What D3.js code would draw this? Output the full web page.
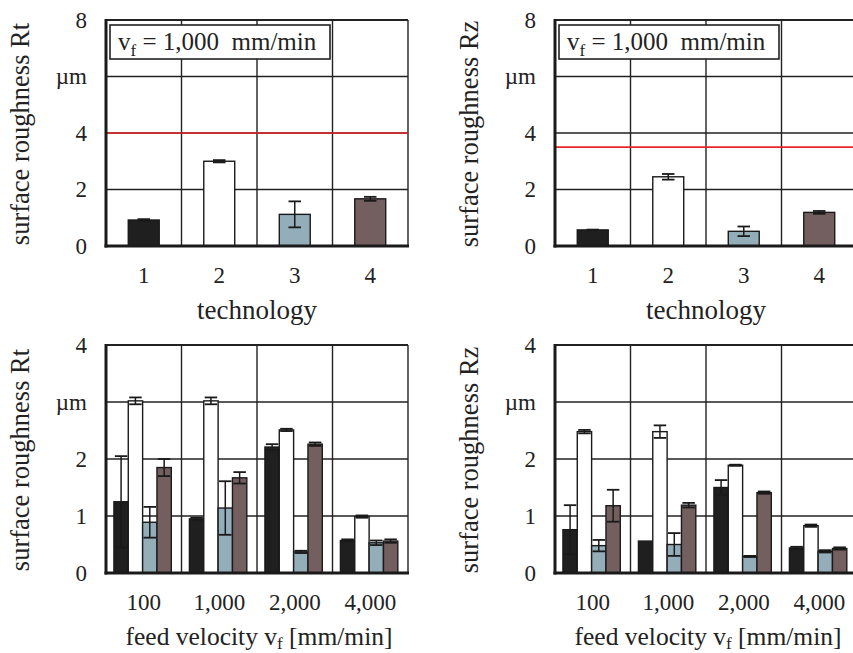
<!DOCTYPE html>
<html>
<head>
<meta charset="utf-8">
<script src="https://cdn.jsdelivr.net/npm/d3@7"></script>
<style>
  body { margin: 0; background: #fff; }
  text { font-family: "Liberation Serif", "Times New Roman", serif; fill: #222; }
</style>
</head>
<body>
<div id="chart"></div>
<script>
// technology comparison at vf = 1,000 mm/min
var techCats = ["1", "2", "3", "4"];
var rtTech = [0.92, 3.0, 1.12, 1.67];
var rtTechErr = [0.03, 0.04, 0.46, 0.07];
var rzTech = [0.57, 2.45, 0.52, 1.19];
var rzTechErr = [0.01, 0.1, 0.17, 0.05];
var rtLimit = 4.0;
var rzLimit = 3.5;

// feed velocity comparison, one array per technology
var feedCats = ["100", "1,000", "2,000", "4,000"];
var rtFeed1 = [1.25, 0.95, 2.21, 0.57];
var rtFeed2 = [3.02, 3.02, 2.51, 0.99];
var rtFeed3 = [0.89, 1.14, 0.37, 0.53];
var rtFeed4 = [1.85, 1.67, 2.26, 0.56];
var rtFeedErr1 = [0.8, 0.02, 0.05, 0.02];
var rtFeedErr2 = [0.06, 0.06, 0.02, 0.02];
var rtFeedErr3 = [0.27, 0.47, 0.02, 0.04];
var rtFeedErr4 = [0.15, 0.1, 0.03, 0.03];
var rzFeed1 = [0.76, 0.56, 1.5, 0.44];
var rzFeed2 = [2.48, 2.48, 1.89, 0.83];
var rzFeed3 = [0.48, 0.5, 0.29, 0.38];
var rzFeed4 = [1.18, 1.19, 1.41, 0.43];
var rzFeedErr1 = [0.43, 0.0, 0.13, 0.02];
var rzFeedErr2 = [0.03, 0.11, 0.01, 0.02];
var rzFeedErr3 = [0.1, 0.2, 0.01, 0.02];
var rzFeedErr4 = [0.28, 0.04, 0.02, 0.02];

var techColors = ["#1f1f1f", "#ffffff", "#93adb9", "#735f60"];

var fullWidth = 853;
var fullHeight = 653;

var svg = d3.select("#chart")
    .append("svg")
    .attr("width", fullWidth)
    .attr("height", fullHeight);

// panel boxes in page pixels
var panels = [
    { x0: 106, x1: 408, y0: 20, y1: 246, yMax: 8, step: 2, unitAt: 6, title: "surface roughness Rt", kind: "tech",
      vals: rtTech, errs: rtTechErr, limit: rtLimit },
    { x0: 555, x1: 857, y0: 20, y1: 246, yMax: 8, step: 2, unitAt: 6, title: "surface roughness Rz", kind: "tech",
      vals: rzTech, errs: rzTechErr, limit: rzLimit },
    { x0: 106, x1: 408, y0: 345, y1: 573, yMax: 4, step: 1, unitAt: 3, title: "surface roughness Rt", kind: "feed",
      series: [rtFeed1, rtFeed2, rtFeed3, rtFeed4], errs: [rtFeedErr1, rtFeedErr2, rtFeedErr3, rtFeedErr4] },
    { x0: 555, x1: 857, y0: 345, y1: 573, yMax: 4, step: 1, unitAt: 3, title: "surface roughness Rz", kind: "feed",
      series: [rzFeed1, rzFeed2, rzFeed3, rzFeed4], errs: [rzFeedErr1, rzFeedErr2, rzFeedErr3, rzFeedErr4] }
];

panels.forEach(function (p) {
    var g = svg.append("g");
    var cats = p.kind === "tech" ? techCats : feedCats;

    var x = d3.scaleBand().domain(cats).range([p.x0, p.x1]).padding(0);
    var y = d3.scaleLinear().domain([0, p.yMax]).range([p.y1, p.y0]);
    var ticks = d3.range(0, p.yMax + 0.001, p.step);

    // grid
    g.selectAll(".hgrid").data(ticks.slice(1)).enter().append("line")
        .attr("x1", p.x0).attr("x2", p.x1)
        .attr("y1", d => y(d)).attr("y2", d => y(d))
        .attr("stroke", "#222").attr("stroke-width", d => d === p.yMax ? 2.2 : 1.4);
    g.selectAll(".vgrid").data(cats.slice(1)).enter().append("line")
        .attr("x1", d => x(d)).attr("x2", d => x(d))
        .attr("y1", p.y0).attr("y2", p.y1)
        .attr("stroke", "#222").attr("stroke-width", 1.4);
    g.append("line")
        .attr("x1", p.x1).attr("x2", p.x1).attr("y1", p.y0).attr("y2", p.y1)
        .attr("stroke", "#222").attr("stroke-width", 1.4);

    // limit line
    if (p.limit) {
        g.append("line")
            .attr("x1", p.x0).attr("x2", p.x1)
            .attr("y1", y(p.limit)).attr("y2", y(p.limit))
            .attr("stroke", "#e8262a").attr("stroke-width", 1.6);
    }

    // bars
    var bars = [];
    if (p.kind === "tech") {
        var bw = x.bandwidth() * 0.41;
        cats.forEach(function (c, i) {
            bars.push({ x: x(c) + (x.bandwidth() - bw) / 2, w: bw, v: p.vals[i], e: p.errs[i], col: techColors[i] });
        });
    } else {
        var sub = d3.scaleBand().domain(d3.range(4)).range([x.bandwidth() * 0.105, x.bandwidth() * 0.865]).padding(0);
        cats.forEach(function (c, i) {
            p.series.forEach(function (s, k) {
                bars.push({ x: x(c) + sub(k), w: sub.bandwidth(), v: s[i], e: p.errs[k][i], col: techColors[k] });
            });
        });
    }

    g.selectAll(".bar").data(bars).enter().append("rect")
        .attr("x", d => d.x).attr("width", d => d.w)
        .attr("y", d => y(d.v)).attr("height", d => y(0) - y(d.v))
        .attr("fill", d => d.col)
        .attr("stroke", "#1a1a1a").attr("stroke-width", 1.4);

    // error bars
    var capW = 12.5;
    var eb = g.selectAll(".err").data(bars.filter(d => d.e > 0)).enter().append("g");
    eb.append("line")
        .attr("x1", d => d.x + d.w / 2).attr("x2", d => d.x + d.w / 2)
        .attr("y1", d => y(d.v + d.e)).attr("y2", d => y(d.v - d.e))
        .attr("stroke", "#1a1a1a").attr("stroke-width", 1.5);
    eb.append("line")
        .attr("x1", d => d.x + d.w / 2 - Math.min(capW, d.w - 1) / 2).attr("x2", d => d.x + d.w / 2 + Math.min(capW, d.w - 1) / 2)
        .attr("y1", d => y(d.v + d.e)).attr("y2", d => y(d.v + d.e))
        .attr("stroke", "#1a1a1a").attr("stroke-width", 1.8);
    eb.append("line")
        .attr("x1", d => d.x + d.w / 2 - Math.min(capW, d.w - 1) / 2).attr("x2", d => d.x + d.w / 2 + Math.min(capW, d.w - 1) / 2)
        .attr("y1", d => y(d.v - d.e)).attr("y2", d => y(d.v - d.e))
        .attr("stroke", "#1a1a1a").attr("stroke-width", 1.8);

    // annotation box
    if (p.kind === "tech") {
        g.append("rect")
            .attr("x", p.x0 + 4).attr("y", p.y0 + 5)
            .attr("width", 220).attr("height", 34)
            .attr("fill", "#fff").attr("stroke", "#222").attr("stroke-width", 1.6);
        var t = g.append("text")
            .attr("x", p.x0 + 12).attr("y", p.y0 + 30)
            .style("font-size", "25px");
        t.append("tspan").text("v");
        t.append("tspan").attr("dy", 6).style("font-size", "17px").text("f");
        t.append("tspan").attr("dy", -6).attr("xml:space", "preserve").text(" = 1,000  mm/min");
    }

    // y axis
    var yAxis = d3.axisLeft(y).tickValues(ticks).tickSize(0).tickPadding(0)
        .tickFormat(d => d === p.unitAt ? "\u00b5m" : d3.format("d")(d));
    var ya = g.append("g").attr("transform", "translate(" + (p.x0 - 19) + ",0)").call(yAxis);
    ya.select(".domain").remove();
    ya.selectAll("text").style("font-size", "23px").attr("fill", "#222")
        .style("font-family", "'Liberation Serif', serif");

    // x axis
    var xAxis = d3.axisBottom(x).tickSize(0).tickPadding(0);
    var xa = g.append("g").attr("transform", "translate(0," + (p.y1 + 37) + ")").call(xAxis);
    xa.select(".domain").remove();
    xa.selectAll("text").attr("dy", 0).style("font-size", "23px").attr("fill", "#222")
        .style("font-family", "'Liberation Serif', serif");

    // frame: thick left and bottom axis lines
    g.append("line")
        .attr("x1", p.x0).attr("x2", p.x0).attr("y1", p.y0 - 1).attr("y2", p.y1 + 1.5)
        .attr("stroke", "#1a1a1a").attr("stroke-width", 3);
    g.append("line")
        .attr("x1", p.x0 - 1.5).attr("x2", p.x1 + 1).attr("y1", p.y1).attr("y2", p.y1)
        .attr("stroke", "#1a1a1a").attr("stroke-width", 3);

    // axis titles
    var cy = (p.y0 + p.y1) / 2 + 1;
    g.append("text")
        .attr("transform", "translate(" + (p.x0 - 77) + "," + cy + ") rotate(-90)")
        .attr("text-anchor", "middle")
        .style("font-size", "26.5px")
        .text(p.title);

    var cx = (p.x0 + p.x1) / 2;
    if (p.kind === "tech") {
        g.append("text").attr("x", cx).attr("y", p.y1 + 73)
            .attr("text-anchor", "middle").style("font-size", "27px").text("technology");
    } else {
        var ft = g.append("text").attr("x", cx + 2).attr("y", p.y1 + 72)
            .attr("text-anchor", "middle").style("font-size", "25.5px");
        ft.append("tspan").text("feed velocity v");
        ft.append("tspan").attr("dy", 4).style("font-size", "17px").text("f");
        ft.append("tspan").attr("dy", -4).text(" [mm/min]");
    }
});
</script>
</body>
</html>
